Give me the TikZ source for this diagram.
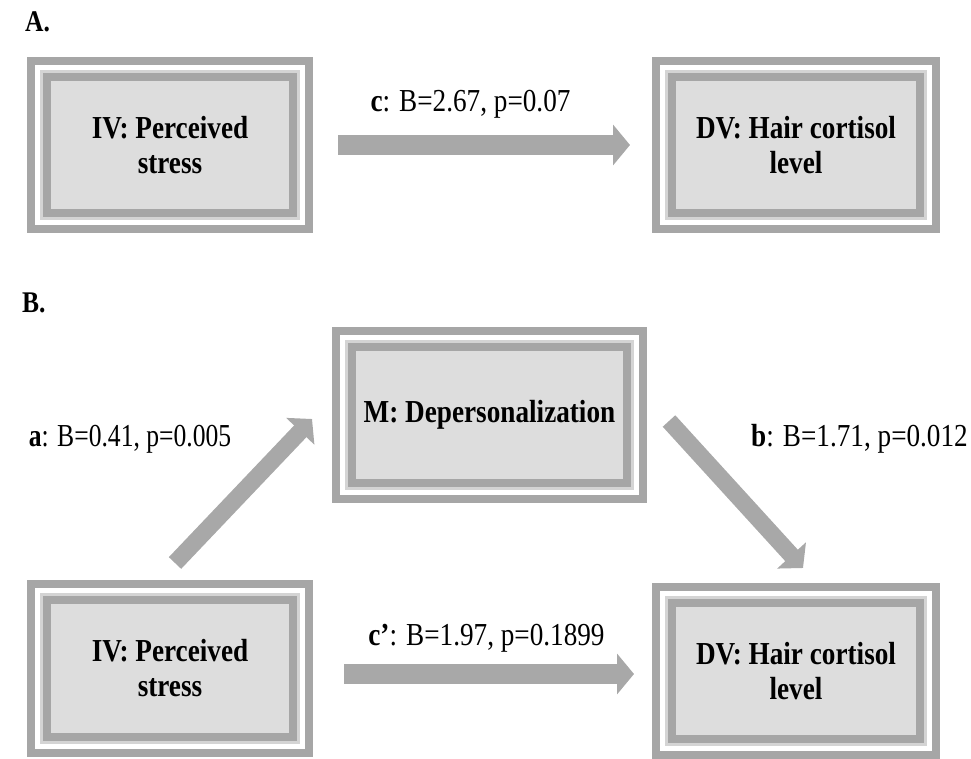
\documentclass[tikz,border=0pt]{standalone}
\usepackage{fontspec}
\setmainfont{Liberation Serif}[FakeStretch=0.85]
\newfontfamily\narrowserif{Liberation Serif}[FakeStretch=0.80]
\usetikzlibrary{arrows.meta,calc}
\definecolor{frameg}{HTML}{A6A6A6}
\definecolor{lightg}{HTML}{D4D4D4}
\definecolor{fillg}{HTML}{DDDDDD}
\definecolor{arrowg}{HTML}{A8A8A8}
\tikzset{
  framebox/.style 2 args={rectangle, inner sep=0pt, minimum width=#1pt, minimum height=#2pt,
    fill=frameg, align=center, font=\fontsize{32}{35}\selectfont\bfseries,
    path picture={
      \fill[white] ($(path picture bounding box.south west)+(8pt,8pt)$) rectangle ($(path picture bounding box.north east)+(-8pt,-8pt)$);
      \fill[lightg] ($(path picture bounding box.south west)+(13pt,13pt)$) rectangle ($(path picture bounding box.north east)+(-13pt,-13pt)$);
      \fill[frameg] ($(path picture bounding box.south west)+(16pt,16pt)$) rectangle ($(path picture bounding box.north east)+(-16pt,-16pt)$);
      \fill[fillg] ($(path picture bounding box.south west)+(24pt,24pt)$) rectangle ($(path picture bounding box.north east)+(-24pt,-24pt)$);
    }},
  lbl/.style={inner sep=0pt, anchor=base, font=\fontsize{32}{35}\selectfont},
  panel/.style={inner sep=0pt, anchor=base west, font=\fontsize{30}{30}\selectfont\bfseries},
  hconn/.style={draw=arrowg, line width=20pt, -{Triangle[width=40pt,length=17pt]}},
  dconn/.style={draw=arrowg, line width=17pt, -{Triangle[width=38pt,length=17pt]}}
}
\begin{document}
\begin{tikzpicture}[x=1pt,y=-1pt]
\useasboundingbox (0,0) rectangle (971,759);
% Panel A
\node[panel] (pA) at (25,32) {A.};
\node[framebox={286}{176}] (ivA) at (170,145) {IV: Perceived\\stress};
\node[framebox={288}{176}] (dvA) at (796,145) {DV: Hair cortisol\\level};
\coordinate (cS) at (338,145);
\coordinate (cE) at (630,145);
\draw[hconn] (cS) -- (cE);
\node[lbl] (lc) at (470.5,112) {\textbf{c}: B=2.67, p=0.07};
% Panel B
\node[panel] (pB) at (22,312) {B.};
\node[framebox={315}{176}] (mB) at (489.5,415) {M: Depersonalization};
\node[framebox={286}{177}] (ivB) at (170,668.5) {IV: Perceived\\stress};
\node[framebox={288}{176}] (dvB) at (796,671) {DV: Hair cortisol\\level};
\coordinate (aS) at (175,563);
\coordinate (aE) at (312,419);
\draw[dconn] (aS) -- (aE);
\coordinate (bS) at (669,421);
\coordinate (bE) at (803,568);
\draw[dconn] (bS) -- (bE);
\coordinate (cpS) at (344,674);
\coordinate (cpE) at (634,674);
\draw[hconn] (cpS) -- (cpE);
\node[lbl, font=\fontsize{32}{35}\selectfont\narrowserif] (la) at (130,446) {\textbf{a}: B=0.41, p=0.005};
\node[lbl] (lb) at (859.5,446) {\textbf{b}: B=1.71, p=0.012};
\node[lbl] (lcp) at (486.5,645) {\textbf{c’}: B=1.97, p=0.1899};
\end{tikzpicture}
\end{document}
